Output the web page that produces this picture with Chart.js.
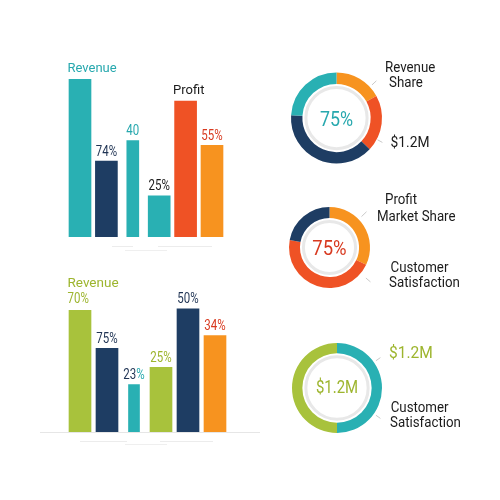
<!DOCTYPE html>
<html><head><meta charset="utf-8">
<script src="https://cdn.jsdelivr.net/npm/chart.js@4.4.1/dist/chart.umd.min.js"></script>
<style>
html,body{margin:0;padding:0;background:#fff}
#wrap{position:relative;width:500px;height:500px;overflow:hidden;background:#fff}
#wrap canvas{position:absolute;left:0;top:0}
</style></head><body>
<div id="wrap">
<canvas id="barTop" width="500" height="500"></canvas>
<canvas id="barBottom" width="500" height="500"></canvas>
<canvas id="donut1" width="500" height="500"></canvas>
<canvas id="donut2" width="500" height="500"></canvas>
<canvas id="donut3" width="500" height="500"></canvas>
</div>
<script>
// ================= DATA =================
const topCategories = ["Revenue", "74%", "40", "25%", "Profit", "55%"];
const topLabelLines = [["Revenue"], ["74%"], ["40"], ["25%"], ["Profit"], ["55%"]];
const topValues = [100, 48, 61, 26, 86, 58];

const bottomCategories = ["Revenue 70%", "75%", "23%", "25%", "50%", "34%"];
const bottomLabelLines = [["Revenue", "70%"], ["75%"], ["23%"], ["25%"], ["50%"], ["34%"]];
const bottomValues = [77, 53, 30, 41, 78, 61];

const donut1Segments = ["A", "B", "C", "D"];
const donut1Values = [17, 20, 39, 24];
const donut1Center = "75%";
const donut1Side = ["Revenue", "Share", "$1.2M"];

const donut2Segments = ["A", "B", "C"];
const donut2Values = [32, 46, 22];
const donut2Center = "75%";
const donut2Side = ["Profit", "Market Share", "Customer", "Satisfaction"];

const donut3Segments = ["A", "B"];
const donut3Values = [50, 50];
const donut3Center = "$1.2M";
const donut3Side = ["$1.2M", "Customer", "Satisfaction"];

// ================= STYLE =================
const TEAL = '#29B0B3', NAVY = '#1E3D63', RED = '#EF5225', ORANGE = '#F7931F', GREEN = '#A8C23C';
const DARK = '#1b1b1b', TXT_NAVY = '#1f3353', TXT_RED = '#D8391F', TXT_GREEN = '#9DB52E', TXT_TEAL = '#27A8AE';
const FONT = 'Roboto, "Open Sans", sans-serif';

function drawText(ctx, text, x, y, size, color, align, sx) {
  ctx.save();
  ctx.font = '400 ' + size + 'px ' + FONT;
  ctx.textBaseline = 'alphabetic';
  ctx.textAlign = 'left';
  const w = ctx.measureText(text).width * sx;
  const x0 = align === 'center' ? x - w / 2 : (align === 'right' ? x - w : x);
  ctx.translate(x0, y);
  ctx.scale(sx, 1);
  if (Array.isArray(color)) {
    // number part / percent sign part
    const m = text.match(/^(.*?)(%?)$/);
    ctx.fillStyle = color[0];
    ctx.fillText(m[1], 0, 0);
    const w1 = ctx.measureText(m[1]).width;
    ctx.fillStyle = color[1];
    ctx.fillText(m[2], w1, 0);
  } else {
    ctx.fillStyle = color;
    ctx.fillText(text, 0, 0);
  }
  ctx.restore();
  return w;
}

const barLabelPlugin = {
  id: 'barLabels',
  afterDatasetsDraw(chart, args, o) {
    const ctx = chart.ctx;
    chart.data.labels.forEach((c, i) => {
      let el = null;
      chart.data.datasets.forEach((ds, d) => { if (ds.data[i] != null) el = chart.getDatasetMeta(d).data[i]; });
      if (!el) return;
      const lines = o.lines[i];
      const n = lines.length;
      lines.forEach((txt, k) => {
        const fromBottom = n - 1 - k;
        const isWord = /[A-Za-z]/.test(txt);
        const gap = (isWord || n > 1) ? 7 : 5.5;
        const baseline = el.y - gap - fromBottom * 16;
        const col = o.colors[i][k];
        const align = o.align[i];
        const x = align === 'left' ? el.x - el.width / 2 - 1.5 : el.x;
        if (isWord) drawText(ctx, txt, x, baseline, o.wordSize, col, align, 1);
        else drawText(ctx, txt, x, baseline, 14, col, align, 0.82);
      });
    });
  }
};

const decoPlugin = {
  id: 'deco',
  beforeDatasetsDraw(chart, args, o) {
    const ctx = chart.ctx;
    ctx.save();
    (o.lines || []).forEach(l => {
      ctx.strokeStyle = l[4];
      ctx.lineWidth = 1;
      ctx.beginPath();
      ctx.moveTo(l[0], l[1]); ctx.lineTo(l[2], l[3]);
      ctx.stroke();
    });
    ctx.restore();
  }
};

function barChart(id, cats, values, narrowIdx, barColors, o) {
  const wideData = values.map((v, i) => narrowIdx.includes(i) ? null : v);
  const narrowData = values.map((v, i) => narrowIdx.includes(i) ? v : null);
  new Chart(document.getElementById(id), {
    type: 'bar',
    data: {
      labels: cats,
      datasets: [
        { data: wideData, backgroundColor: barColors, barThickness: o.wide, grouped: false, borderWidth: 0 },
        { data: narrowData, backgroundColor: barColors, barThickness: o.narrow, grouped: false, borderWidth: 0 }
      ]
    },
    options: {
      responsive: false, animation: false, devicePixelRatio: 1,
      layout: { padding: o.pad },
      plugins: {
        legend: { display: false }, tooltip: { enabled: false },
        barLabels: { lines: o.lines, colors: o.colors, align: o.align, wordSize: o.wordSize },
        deco: { lines: o.deco }
      },
      scales: {
        x: { display: false, offset: true, grid: { display: false } },
        y: { display: false, min: 0, max: 100 }
      }
    },
    plugins: [barLabelPlugin, decoPlugin]
  });
}

barChart('barTop', topCategories, topValues, [2], [TEAL, NAVY, TEAL, TEAL, RED, ORANGE], {
  wide: 22, narrow: 12,
  pad: { left: 66.8, right: 274.8, top: 79, bottom: 263 },
  lines: topLabelLines,
  colors: [[TXT_TEAL], [TXT_NAVY], [TXT_TEAL], [DARK], [DARK], [TXT_RED]],
  align: ['left', 'center', 'center', 'center', 'left', 'center'],
  wordSize: 13,
  deco: [[112, 246.5, 133, 246.5, '#ececec'], [158, 246.5, 212, 246.5, '#ececec'], [125, 250.5, 167, 250.5, '#efefef']]
});

barChart('barBottom', bottomCategories, bottomValues, [2], [GREEN, NAVY, TEAL, GREEN, NAVY, ORANGE], {
  wide: 22, narrow: 11,
  pad: { left: 66.5, right: 271.5, top: 274, bottom: 68 },
  lines: bottomLabelLines,
  colors: [[TXT_GREEN, TXT_GREEN], [TXT_NAVY], [[TXT_NAVY, TXT_TEAL]], [TXT_GREEN], [TXT_NAVY], [TXT_RED]],
  align: ['left', 'center', 'center', 'center', 'center', 'center'],
  wordSize: 13.5,
  deco: [[40, 432.5, 260, 432.5, '#e6e6e6'], [80, 441.5, 127, 441.5, '#ececec'], [160, 441.5, 213, 441.5, '#ececec'], [125, 444.5, 167, 444.5, '#efefef']]
});

const donutPlugin = {
  id: 'donutDeco',
  beforeDatasetsDraw(chart, args, o) {
    const a = chart.getDatasetMeta(0).data[0];
    const ctx = chart.ctx;
    ctx.save();
    ctx.beginPath();
    ctx.arc(a.x, a.y, a.innerRadius - 3.5, 0, Math.PI * 2);
    ctx.strokeStyle = '#e8e8e8'; ctx.lineWidth = 3; ctx.stroke();
    ctx.restore();
  },
  afterDatasetsDraw(chart, args, o) {
    const a = chart.getDatasetMeta(0).data[0];
    const ctx = chart.ctx;
    const R = a.outerRadius;
    // centre text
    drawText(ctx, o.center, a.x, a.y + o.centerDy, o.centerSize, o.centerColor, 'center', o.centerSx);
    // leader ticks
    ctx.save();
    ctx.strokeStyle = '#c9c9c9'; ctx.lineWidth = 1;
    o.ticks.forEach(t => {
      const ang = t[0] * Math.PI / 180;
      ctx.beginPath();
      ctx.moveTo(a.x + (R + t[1]) * Math.sin(ang), a.y - (R + t[1]) * Math.cos(ang));
      ctx.lineTo(a.x + (R + t[2]) * Math.sin(ang), a.y - (R + t[2]) * Math.cos(ang));
      ctx.stroke();
    });
    ctx.restore();
    // side labels
    o.side.forEach((txt, i) => {
      const s = o.sideStyle[i];
      drawText(ctx, txt, a.x + s.dx, a.y + s.dy, s.size, s.color, 'left', s.sx);
    });
  }
};

function donut(id, segs, values, colors, o) {
  new Chart(document.getElementById(id), {
    type: 'doughnut',
    data: { labels: segs, datasets: [{ data: values, backgroundColor: colors, borderWidth: 0 }] },
    options: {
      responsive: false, animation: false, devicePixelRatio: 1,
      cutout: o.cutout,
      layout: { padding: o.pad },
      plugins: { legend: { display: false }, tooltip: { enabled: false }, donutDeco: o }
    },
    plugins: [donutPlugin]
  });
}

const sideStd = (dx, dy) => ({ dx, dy, size: 14, color: DARK, sx: 0.95 });

donut('donut1', donut1Segments, donut1Values, [ORANGE, RED, NAVY, TEAL], {
  cutout: '75%',
  pad: { left: 291, top: 72.5, right: 118, bottom: 336.5 },
  center: donut1Center, centerColor: TXT_TEAL, centerSize: 21, centerSx: 0.85, centerDy: 7.5,
  ticks: [[47, 3, 9], [118, 1, 6.5]],
  side: donut1Side,
  sideStyle: [sideStd(48.5, -46.3), sideStd(52.5, -31.3), { dx: 54, dy: 28.7, size: 15, color: DARK, sx: 0.92 }]
});

donut('donut2', donut2Segments, donut2Values, [ORANGE, RED, NAVY], {
  cutout: '73%',
  pad: { left: 289, top: 207, right: 130, bottom: 212 },
  center: donut2Center, centerColor: TXT_RED, centerSize: 21, centerSx: 0.88, centerDy: 7.5,
  ticks: [[46, 4, 11], [130, 7, 13]],
  side: donut2Side,
  sideStyle: [sideStd(55.5, -43.5), sideStd(47.5, -26.8), sideStd(61, 24.2), sideStd(59.5, 39.5)]
});

donut('donut3', donut3Segments, donut3Values, [TEAL, GREEN], {
  cutout: '77%',
  pad: { left: 292, top: 343, right: 118, bottom: 67 },
  center: donut3Center, centerColor: TXT_GREEN, centerSize: 18, centerSx: 0.83, centerDy: 4.7,
  ticks: [[55, 2.5, 8], [125, 2.5, 8]],
  side: donut3Side,
  sideStyle: [{ dx: 52, dy: -30, size: 16, color: TXT_GREEN, sx: 0.97 }, sideStd(53.7, 23.7), sideStd(53, 38.7)]
});
</script>
</body></html>
